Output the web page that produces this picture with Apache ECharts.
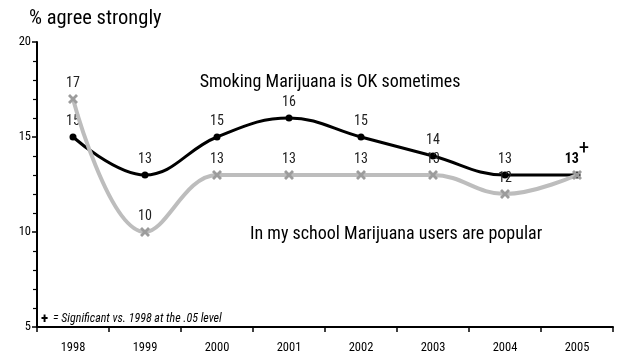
<!DOCTYPE html>
<html><head><meta charset="utf-8">
<script src="https://cdn.jsdelivr.net/npm/echarts@6/dist/echarts.min.js"></script>
<style>html,body{margin:0;padding:0;background:#fff}#c{width:618px;height:354px}</style>
</head><body><div id="c"></div>
<script>
const categories = ['1998','1999','2000','2001','2002','2003','2004','2005'];
const smokingOK = [15,13,15,16,15,14,13,13];
const usersPopular = [17,10,13,13,13,13,12,13];
const yTicks = [5,10,15,20];
const titleText = '% agree strongly';
const seriesNames = ['Smoking Marijuana is OK sometimes','In my school Marijuana users are popular'];
const footnote = '= Significant vs. 1998 at the .05 level';

const FN = '"Roboto Condensed","Liberation Sans Narrow",sans-serif';
const X_PATH = 'path://M2,0 L5,3 L8,0 L10,2 L7,5 L10,8 L8,10 L5,7 L2,10 L0,8 L3,5 L0,2 Z';

const chart = echarts.init(document.getElementById('c'), null, {renderer:'canvas'});

const blackData = smokingOK.map((v,i)=> i===smokingOK.length-1 ? {
  value:v,
  label:{formatter:'{b|'+v+'}{p|+}', rich:{
    b:{fontFamily:FN,fontSize:14,fontWeight:'bold',color:'#000',verticalAlign:'bottom'},
    p:{fontFamily:FN,fontSize:21,color:'#000',verticalAlign:'bottom',padding:[0,0,7,0]}
  }}
} : v);
const grayData = usersPopular.map((v,i)=> i===usersPopular.length-1 ? {value:v,label:{show:false}} : v);

chart.setOption({
  animation:false,
  backgroundColor:'#fff',
  grid:{left:37,right:5,top:42,bottom:24,containLabel:false},
  xAxis:{
    type:'category', data:categories, boundaryGap:true,
    axisLine:{lineStyle:{color:'#000',width:2}},
    axisTick:{show:true,length:5,alignWithLabel:false,lineStyle:{color:'#000',width:1.5}},
    axisLabel:{fontFamily:FN,fontSize:12.5,color:'#000',margin:14},
    splitLine:{show:false}
  },
  yAxis:{
    type:'value', min:yTicks[0], max:yTicks[yTicks.length-1], interval:5,
    axisLine:{show:true,lineStyle:{color:'#000',width:2}},
    axisTick:{show:true,length:5,lineStyle:{color:'#000',width:1.5}},
    minorTick:{show:true,splitNumber:5,length:4,lineStyle:{color:'#000',width:1.2}},
    axisLabel:{fontFamily:FN,fontSize:12.5,color:'#000',margin:6},
    splitLine:{show:false}
  },
  series:[
    {name:seriesNames[0],type:'line',data:blackData,smooth:0.4,
     symbol:'circle',symbolSize:7,z:2,
     lineStyle:{color:'#000',width:3},itemStyle:{color:'#000'},
     label:{show:true,position:'top',distance:5,fontFamily:FN,fontSize:14,color:'#222'}},
    {name:seriesNames[1],type:'line',data:grayData,smooth:0.4,
     symbol:X_PATH,symbolSize:10,z:3,
     lineStyle:{color:'#bdbdbd',width:4},itemStyle:{color:'#9c9c9c'},
     label:{show:true,position:'top',distance:4,fontFamily:FN,fontSize:14,color:'#222'}}
  ],
  graphic:[
    {type:'text',left:29,top:8,style:{text:titleText,font:'20.5px '+FN,fill:'#000'}},
    {type:'text',x:330,y:82,style:{text:seriesNames[0],font:'18px '+FN,fill:'#000',textAlign:'center',textVerticalAlign:'middle'}},
    {type:'text',x:250,y:234,style:{text:seriesNames[1],font:'18px '+FN,fill:'#000',textAlign:'left',textVerticalAlign:'middle'}},
    {type:'text',x:41,y:319,style:{text:'+',font:'bold 15px '+FN,fill:'#000',textAlign:'left',textVerticalAlign:'middle'}},
    {type:'text',x:53,y:319,style:{text:footnote,font:'italic 12px '+FN,fill:'#000',textAlign:'left',textVerticalAlign:'middle'}}
  ]
});
</script></body></html>
